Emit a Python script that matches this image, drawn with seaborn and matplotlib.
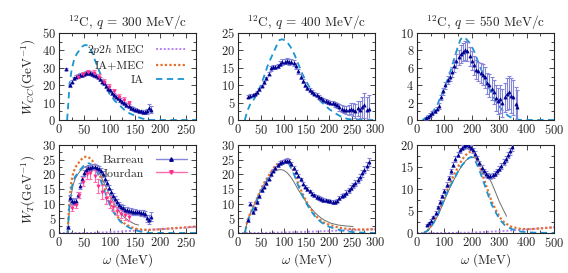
import numpy as np
import matplotlib
matplotlib.use("Agg")
import matplotlib.pyplot as plt
from matplotlib.ticker import MultipleLocator, AutoMinorLocator
from matplotlib.lines import Line2D
import seaborn as sns

# ---------------- datos ----------------
# q = 300 MeV/c, respuesta CC
ia300_cc_w = [16, 18, 21, 25, 30, 35, 40, 45, 50, 55, 60, 65, 70, 76, 80, 90, 99, 110, 121, 130, 140, 150, 160, 170, 180, 270]
ia300_cc = [0, 8, 21, 29, 35, 38, 40, 42, 43, 43, 42, 39, 35, 30.6, 27.5, 21, 15.3, 11, 8, 5.5, 3.7, 2.5, 1.2, 0.4, 0, 0]
bar300_cc_w = [14, 21, 25, 29, 33, 37, 41, 45, 49, 53, 57, 61, 65, 69, 73, 77, 81, 85, 89, 93,
               97, 101, 105, 109, 113, 117, 121, 125, 129, 133, 137, 141, 145, 149, 153, 157, 161, 165, 169, 173, 177, 181]
bar300_cc = [29.3, 20, 22, 24, 25, 25.5, 26, 26, 26.5, 27, 27, 27, 26.5, 26, 25.5, 24.5, 23.5, 22, 21, 19.5,
             18, 17, 15.5, 14.5, 13.5, 12.5, 11.5, 10.5, 9.5, 8.5, 8, 7, 6.5, 6, 5.5, 5, 5, 4.5, 4.5, 5, 7, 6]
bar300_cc_err = [0.8, 1.2, 1, 1, 1, 1, 1, 1, 1, 1, 1, 1, 1, 1, 1, 1, 1, 1, 1, 1,
                 1, 1, 1, 1, 1, 1, 1, 1, 1, 1, 1, 1, 1, 1, 1, 1, 1, 1, 1.2, 1.5, 2, 2]
jou300_cc_w = [38, 48, 58, 68, 78, 88, 98, 108, 118, 128, 138]
jou300_cc = [25, 26.5, 27.5, 27, 25, 22, 19, 16.5, 13.5, 11.5, 9.5]
jou300_cc_err = [1, 1, 1, 1.5, 1.5, 1.5, 1.5, 1.5, 1.5, 1.5, 1.5]

# q = 400 MeV/c, respuesta CC
ia400_cc_w = [15, 20, 26, 35, 44, 50, 58, 66, 77, 85, 91, 97, 106, 115, 124, 133, 142, 155, 168, 180, 190, 200, 212, 225, 240, 260, 300]
ia400_cc = [0, 2.5, 4.3, 6, 8.1, 10, 12.9, 16, 19.2, 21.5, 23, 23.2, 22.7, 21, 18.7, 15.8, 12.9, 9.8, 7.2, 5.5, 4.3, 3.1, 2, 1, 0.3, 0, 0]
bar400_w = [22, 27, 32, 37, 42, 47, 52, 57, 62, 67, 72, 77, 82, 87, 92, 97, 102, 107, 112, 117,
            122, 127, 132, 137, 142, 147, 152, 157, 162, 167, 172, 177, 182, 187, 192, 197, 202, 207, 212, 217,
            222, 227, 232, 237, 242, 247, 252, 257, 262, 267, 272, 277, 282, 287]
bar400_cc = [6.7, 7, 7.2, 7.5, 8, 8.8, 9.8, 10.8, 12, 13.3, 14.8, 15.2, 15.3, 15.6, 16.2, 16.6, 16.8, 17, 16.6, 16.8,
             16.3, 15.5, 14, 12.5, 11.2, 10.2, 9.2, 8.6, 8, 7.6, 7.2, 6.6, 6.2, 5.8, 5.4, 5.2, 5, 4.8, 4.5, 4.2,
             3.6, 3.2, 3, 2.8, 2.9, 3.2, 3, 2.6, 3.4, 3, 3.6, 4.2, 2.8, 3.2]
bar400_cc_err = [0.4, 0.4, 0.4, 0.4, 0.4, 0.4, 0.4, 0.5, 0.5, 0.5, 0.6, 0.6, 0.6, 0.6, 0.7, 0.8, 0.8, 0.8, 0.8, 0.8,
                 0.8, 0.8, 0.7, 0.7, 0.6, 0.6, 0.6, 0.5, 0.5, 0.5, 0.5, 0.5, 0.5, 0.5, 0.5, 0.5, 0.5, 0.6, 0.7, 0.8,
                 0.9, 1, 1.1, 1.2, 1.4, 1.6, 1.8, 2, 2.2, 2.5, 3, 3.5, 3.8, 4]

# q = 550 MeV/c, respuesta CC
ia550_cc_w = [20, 35, 55, 75, 92, 105, 116, 128, 140, 150, 158, 165, 172, 180, 194, 210, 225, 245, 261, 280, 297, 315, 333, 357, 380, 500]
ia550_cc = [0, 0.3, 0.8, 1.8, 3.1, 4.1, 5, 6.2, 7.5, 8.5, 9.2, 9.5, 9.5, 9.3, 8.8, 7.8, 6.5, 5, 3.8, 2.6, 1.7, 1, 0.46, 0.1, 0, 0]
bar550_cc_w = [32, 40, 48, 56, 64, 72, 80, 88, 96, 104, 112, 120, 128, 136, 144, 152, 160, 168, 176, 184,
               192, 200, 208, 216, 224, 232, 240, 248, 256, 264, 272, 280, 288, 296, 304, 312, 320, 328, 336, 344,
               352, 360, 366]
bar550_cc = [0.2, 0.4, 0.6, 0.8, 1, 1.3, 1.6, 2.6, 3.3, 4, 4.6, 5, 5.5, 6.2, 6.8, 7.2, 7.6, 7.8, 8, 7.9,
             7.3, 6.8, 6.3, 5.8, 5.6, 5.4, 5.2, 4.9, 4.2, 4, 3.6, 3.2, 2.5, 2.2, 2.4, 2, 2.6, 3, 3.2, 2.8,
             2.6, 1.8, 1.5]
bar550_cc_err = [0.2, 0.2, 0.2, 0.2, 0.2, 0.2, 0.3, 0.3, 0.4, 0.4, 0.5, 0.5, 0.6, 0.7, 0.8, 0.9, 1, 1, 1.1, 1.1,
                 1.1, 1.1, 1.1, 1.1, 1.1, 1.1, 1.2, 1.2, 1.2, 1.3, 1.3, 1.4, 1.5, 1.5, 1.6, 1.6, 1.7, 1.8, 1.9, 2,
                 2, 2, 2]

# q = 300 MeV/c, respuesta T
th300_t_w = [17, 20, 24, 28, 32, 37, 42, 47, 52, 56, 60, 65, 73, 80, 89, 97, 105, 113, 121, 131, 141, 150, 160, 170, 180, 200, 270]
ia300_t = [0, 8, 14.7, 17.5, 19.3, 20.4, 21.6, 22.6, 23.4, 23.8, 23.7, 23.2, 21.5, 19, 14.7, 11, 7.8, 5.6, 3.9, 2.6, 1.6, 1, 0.5, 0.2, 0, 0, 0]
iamec300_t = [0, 9.5, 17, 20.5, 22.3, 23.5, 24.7, 25.6, 26, 26, 25.6, 24.8, 22.8, 20, 15.5, 11.7, 8.4, 6.1, 4.3, 3, 2.1, 1.5, 1.2, 1.1, 1.1, 1.3, 2.2]
mec300_w = [0, 60, 90, 120, 150, 180, 210, 240, 270]
mec300_t = [0, 0, 0.2, 0.5, 0.8, 1.1, 1.4, 1.7, 2.1]
gray300_w = [17, 20, 24, 28, 32, 37, 42, 47, 52, 57, 62, 67, 73, 80, 89, 97, 105, 113, 121, 131, 141, 150, 157]
gray300_t = [0, 7, 13, 16.5, 18.5, 20, 21.2, 22, 22.6, 23, 23, 22.7, 22, 20.3, 17, 14, 11.2, 8.7, 6.8, 5, 3.8, 3, 2.7]
bar300_t_w = [17, 22, 26, 30, 34, 38, 42, 46, 50, 54, 58, 62, 66, 70, 74, 78, 82, 86, 90, 94,
              98, 102, 106, 110, 114, 118, 122, 126, 130, 134, 138, 142, 146, 150, 154, 158, 162, 166, 170, 174, 178, 182]
bar300_t = [2, 12, 11, 10.5, 11, 13, 16, 18.5, 20.5, 21.5, 22, 22.3, 22.5, 22.5, 22.3, 21.8, 21, 20, 18.5, 17,
            15.5, 14, 12.5, 11.5, 10.5, 9.5, 9, 8.5, 8, 7.8, 7.5, 7.5, 7.3, 7.2, 7, 7, 6.9, 6.7, 6.5, 5, 4.5, 5.5]
bar300_t_err = [0.5, 1, 1, 1, 1, 1, 1, 1, 1, 1, 1, 1, 1, 1, 1, 1, 1, 1, 1, 1,
                1, 1, 1, 1, 1, 1, 1, 1, 1, 1, 1, 1, 1, 1, 1, 1, 1, 1, 1, 1.2, 1.5, 1.5]
jou300_t_w = [25, 33, 40, 47, 55, 62, 70, 77, 85, 92, 100, 107, 115, 122, 130, 138]
jou300_t = [8.5, 9.5, 13, 17.5, 20, 20.5, 19.5, 16, 14, 12, 10.5, 9, 7.5, 6.5, 6, 5.5]
jou300_t_err = [1, 1, 1, 1.5, 1.5, 2, 2, 2.5, 2.5, 2, 2, 1.5, 1.5, 1.5, 1.5, 1.5]

# q = 400 MeV/c, respuesta T
th400_t_w = [15, 20, 25, 30, 37, 44, 51, 58, 66, 73, 80, 87, 94, 100, 106, 112, 118, 124, 131, 139,
             146, 153, 161, 168, 175, 182, 190, 200, 212, 225, 241, 260, 280, 300]
ia400_t = [0, 3.5, 5.5, 7.3, 9.6, 12, 14.5, 16.5, 18.5, 20.2, 21.7, 22.8, 23.5, 24, 24, 23.5, 21.5, 19.5, 16.5, 13.5,
           11.2, 9.2, 7.3, 5.8, 4.6, 3.7, 2.8, 2.1, 1.5, 0.9, 0.5, 0.2, 0.1, 0]
iamec400_t = [0, 3.8, 6, 7.8, 10.2, 12.6, 15.2, 17.3, 19.3, 21, 22.5, 23.6, 24.3, 24.7, 24.7, 24.2, 22.2, 20.2, 17.2, 14.2,
              11.9, 9.8, 7.8, 6.3, 5.1, 4.2, 3.4, 2.8, 2.2, 1.7, 1.4, 1.2, 1.2, 1.3]
mec400_w = [0, 50, 100, 150, 200, 250, 300]
mec400_t = [0, 0, 0.2, 0.4, 0.7, 1.0, 1.3]
gray400_w = [15, 20, 25, 30, 37, 44, 51, 58, 66, 73, 80, 87, 94, 100, 108, 116, 124, 131, 139, 146,
             153, 161, 168, 175, 182, 190, 204, 220, 236, 252]
gray400_t = [0, 3.8, 6, 7.8, 10.2, 12.6, 14.8, 16.8, 18.6, 20, 21, 21.5, 21.6, 21.4, 20.5, 19, 17, 15, 13, 11.3,
             9.8, 8.3, 7, 6, 5.1, 4.3, 3.3, 2.7, 2.4, 2.2]
bar400_t = [4.4, 10, 7, 8.5, 10.5, 12.5, 14.5, 15.8, 17, 18.5, 20.2, 21.3, 22.3, 23.2, 23.8, 24.2, 24.5, 24.7, 24.5, 23.5,
            22.3, 20.8, 19.6, 18.3, 16.8, 15.8, 15, 14.2, 13.4, 12.8, 12.3, 12, 11.6, 11.3, 11.1, 11, 10.8, 10.6, 10.5, 11,
            11.8, 12.5, 13, 13.7, 14.5, 15.5, 16.3, 17, 18, 19.2, 20.3, 21.5, 22.8, 24.2]
bar400_t_err = [0.5, 0.5, 0.5, 0.5, 0.5, 0.5, 0.5, 0.5, 0.6, 0.6, 0.6, 0.6, 0.7, 0.7, 0.7, 0.7, 0.7, 0.7, 0.7, 0.7,
                0.7, 0.7, 0.6, 0.6, 0.6, 0.6, 0.6, 0.6, 0.6, 0.6, 0.6, 0.6, 0.6, 0.6, 0.6, 0.6, 0.6, 0.6, 0.6, 0.6,
                0.7, 0.7, 0.7, 0.8, 0.8, 0.8, 0.9, 0.9, 1, 1, 1.1, 1.2, 1.3, 1.4]

# q = 550 MeV/c, respuesta T
th550_t_w = [25, 40, 55, 67, 80, 92, 104, 116, 128, 140, 152, 164, 176, 188, 198, 210, 225, 237, 249, 261,
             273, 288, 303, 320, 345, 380, 420, 500]
ia550_t = [0, 0.6, 1.8, 3, 4.7, 6.5, 8.3, 10, 11.5, 12.8, 14.3, 15.4, 16.2, 17, 17.3, 16.8, 14.7, 12.7, 10.5, 8.4,
           6.4, 4.6, 3, 1.8, 0.9, 0.3, 0.1, 0]
iamec550_t = [0, 0.7, 1.9, 3.2, 5, 6.9, 8.8, 10.6, 12.3, 13.8, 15.3, 16.6, 17.6, 18.3, 18.5, 18, 15.8, 13.6, 11.4, 9.2,
              7.1, 5.2, 3.5, 2.3, 1.4, 0.9, 0.9, 1.3]
mec550_w = [0, 100, 200, 300, 400, 500]
mec550_t = [0, 0, 0.1, 0.4, 0.8, 1.3]
gray550_w = [25, 40, 55, 67, 80, 92, 104, 116, 128, 140, 152, 164, 176, 190, 204, 218, 232, 246, 260, 273,
             287, 300, 314, 327]
gray550_t = [0, 0.6, 1.7, 2.9, 4.5, 6.2, 8, 9.7, 11.3, 12.7, 14.1, 15.3, 16.3, 17.1, 17.2, 16.9, 15.8, 14.3, 12.9, 11.3,
             9.2, 7.2, 5.4, 3.8]
bar550_t_w = [36, 44, 52, 60, 68, 76, 84, 92, 100, 108, 116, 124, 132, 140, 148, 156, 164, 172, 180, 188,
              196, 204, 212, 220, 228, 236, 244, 252, 260, 268, 276, 284, 292, 300, 308, 316, 324, 332, 340, 348]
bar550_t = [1.8, 2.2, 2.8, 3.6, 4.6, 5.8, 7, 8.3, 9.6, 11, 12.5, 14, 15.5, 16.8, 17.8, 18.8, 19.4, 19.8, 19.9, 19.8,
            19.4, 18.8, 18, 17, 15.8, 14.8, 14, 13.4, 13, 12.9, 13.1, 13.5, 14, 14.6, 15.3, 16.2, 16.8, 17.7, 18.6, 19.5]
bar550_t_err = [0.3, 0.3, 0.3, 0.3, 0.4, 0.4, 0.4, 0.4, 0.5, 0.5, 0.5, 0.5, 0.6, 0.6, 0.6, 0.6, 0.6, 0.6, 0.6, 0.6,
                0.6, 0.6, 0.6, 0.6, 0.6, 0.6, 0.6, 0.6, 0.6, 0.6, 0.6, 0.6, 0.6, 0.6, 0.7, 0.7, 0.7, 0.7, 0.8, 0.8]

titles = [r"$^{12}$C, $q$ = 300 MeV/c", r"$^{12}$C, $q$ = 400 MeV/c", r"$^{12}$C, $q$ = 550 MeV/c"]
xmax = [270, 300, 500]
ymax_cc = [50, 25, 10]
ymax_t = [30, 30, 20]

# ---------------- estilo ----------------
sns.set_style("ticks")
plt.rcParams['font.family'] = 'serif'
plt.rcParams['font.serif'] = ['cmr10', 'DejaVu Serif']
plt.rcParams['mathtext.fontset'] = 'cm'
plt.rcParams['axes.formatter.use_mathtext'] = True
plt.rcParams['font.size'] = 9

c_ia = '#1a94d2'
c_iamec = '#e5702a'
c_mec = '#b884f5'
c_gray = '#6e6e6e'
c_bar = '#000090'
c_bar_err = '#8585da'
c_jou = '#ff2a8c'
c_jou_err = '#ff6cb0'

ls_ia = (0, (3.5, 2.5))
ls_dot = (0, (1, 1))

fig = plt.figure(figsize=(5.68, 2.73), dpi=100)
W, H = 568, 273
lefts = [59, 238, 417]
axes_cc = [fig.add_axes([l / W, (H - 120) / H, 137 / W, 87 / H]) for l in lefts]
axes_t = [fig.add_axes([l / W, (H - 233) / H, 137 / W, 88 / H]) for l in lefts]


def curva(ax, x, y, color, ls, lw=1.3, z=2):
    sns.lineplot(x=x, y=y, ax=ax, color=color, linestyle=ls, linewidth=lw, zorder=z, sort=False)


def datos(ax, x, y, err, color, ecolor, marker, ms=5):
    ax.errorbar(x, y, yerr=err, fmt='none', ecolor=ecolor, elinewidth=0.8, capsize=1.6, capthick=0.8, zorder=4)
    sns.scatterplot(x=x, y=y, ax=ax, color=color, marker=marker, s=ms, edgecolor=color, linewidth=0.5, zorder=5)


def formato(ax, xm, ym):
    ax.set_xlim(0, xm)
    ax.set_ylim(0, ym)
    ax.xaxis.set_major_locator(MultipleLocator(100 if xm > 300 else 50))
    ax.xaxis.set_minor_locator(AutoMinorLocator(2))
    ax.yaxis.set_major_locator(MultipleLocator({50: 10, 25: 5, 10: 2, 30: 5, 20: 5}[ym]))
    ax.yaxis.set_minor_locator(AutoMinorLocator(2))
    ax.tick_params(which='both', direction='in', top=True, right=True, width=0.6, labelsize=9, pad=2)
    ax.tick_params(which='major', length=3.5)
    ax.tick_params(which='minor', length=2)
    for s in ax.spines.values():
        s.set_linewidth(0.8)
    ax.set_xlabel('')
    ax.set_ylabel('')


# fila superior (CC)
curva(axes_cc[0], ia300_cc_w, ia300_cc, c_ia, ls_ia)
datos(axes_cc[0], bar300_cc_w, bar300_cc, bar300_cc_err, c_bar, c_bar_err, '^')
datos(axes_cc[0], jou300_cc_w, jou300_cc, jou300_cc_err, c_jou, c_jou_err, 'v')
curva(axes_cc[1], ia400_cc_w, ia400_cc, c_ia, ls_ia)
datos(axes_cc[1], bar400_w, bar400_cc, bar400_cc_err, c_bar, c_bar_err, '^')
curva(axes_cc[2], ia550_cc_w, ia550_cc, c_ia, ls_ia)
datos(axes_cc[2], bar550_cc_w, bar550_cc, bar550_cc_err, c_bar, c_bar_err, '^')

# fila inferior (T)
curvas_t = [
    (th300_t_w, ia300_t, iamec300_t, mec300_w, mec300_t, gray300_w, gray300_t),
    (th400_t_w, ia400_t, iamec400_t, mec400_w, mec400_t, gray400_w, gray400_t),
    (th550_t_w, ia550_t, iamec550_t, mec550_w, mec550_t, gray550_w, gray550_t),
]
for ax, (tw, ia, iamec, mw, mec, gw, gr) in zip(axes_t, curvas_t):
    curva(ax, gw, gr, c_gray, '-', lw=0.7, z=1)
    curva(ax, mw, mec, c_mec, ls_dot, lw=1.4)
    curva(ax, tw, iamec, c_iamec, ls_dot, lw=1.6)
    curva(ax, tw, ia, c_ia, ls_ia)

datos(axes_t[0], bar300_t_w, bar300_t, bar300_t_err, c_bar, c_bar_err, '^')
datos(axes_t[0], jou300_t_w, jou300_t, jou300_t_err, c_jou, c_jou_err, 'v')
datos(axes_t[1], bar400_w, bar400_t, bar400_t_err, c_bar, c_bar_err, '^')
datos(axes_t[2], bar550_t_w, bar550_t, bar550_t_err, c_bar, c_bar_err, '^')

for i in range(3):
    formato(axes_cc[i], xmax[i], ymax_cc[i])
    formato(axes_t[i], xmax[i], ymax_t[i])
    axes_cc[i].set_title(titles[i], fontsize=9.5, pad=4)
    axes_t[i].set_xlabel(r"$\omega$ (MeV)", fontsize=9.5, labelpad=1)

axes_cc[0].set_ylabel(r"$W_{CC}$(GeV$^{-1}$)", fontsize=9.5, labelpad=3)
axes_t[0].set_ylabel(r"$W_T$(GeV$^{-1}$)", fontsize=9.5, labelpad=3)

# leyendas
h_teo = [Line2D([], [], color=c_mec, linestyle=ls_dot, lw=1.4),
         Line2D([], [], color=c_iamec, linestyle=ls_dot, lw=1.6),
         Line2D([], [], color=c_ia, linestyle=ls_ia, lw=1.3)]
axes_cc[0].legend(h_teo, [r"$2p2h$ MEC", "IA+MEC", "IA"], loc='upper right', frameon=False,
                  markerfirst=False, fontsize=8.5, handlelength=2.6, labelspacing=0.3,
                  borderaxespad=0.7, borderpad=0.1, handletextpad=1.0)
h_exp = [Line2D([], [], color=c_bar_err, lw=1.0, marker='^', ms=2.5, markerfacecolor=c_bar, markeredgecolor=c_bar),
         Line2D([], [], color=c_jou_err, lw=1.0, marker='v', ms=2.5, markerfacecolor=c_jou, markeredgecolor=c_jou)]
axes_t[0].legend(h_exp, ["Barreau", "Jourdan"], loc='upper right', frameon=False,
                 markerfirst=False, fontsize=8.5, handlelength=2.6, labelspacing=0.3,
                 borderaxespad=0.7, borderpad=0.1, handletextpad=1.0)

fig.savefig("out.png", dpi=100)
